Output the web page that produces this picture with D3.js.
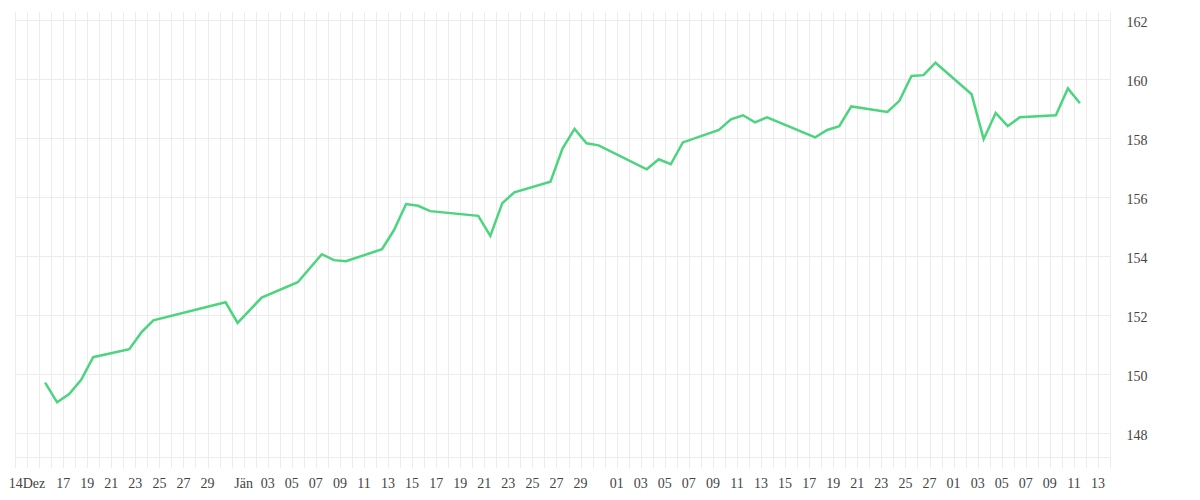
<!DOCTYPE html>
<html>
<head>
<meta charset="utf-8">
<script src="https://cdn.jsdelivr.net/npm/d3@7/dist/d3.min.js"></script>
<style>
  html, body { margin: 0; padding: 0; background: #ffffff; }
  svg { display: block; }
  text { font-family: "Liberation Serif", "Times New Roman", serif; font-size: 14px; fill: #444; }
</style>
</head>
<body>
<svg id="chart" width="1200" height="500"></svg>
<script>
// ---- data ----
const dates = [
  "2025-12-15","2025-12-16","2025-12-17","2025-12-18","2025-12-19",
  "2025-12-22","2025-12-23","2025-12-24","2025-12-30","2025-12-31",
  "2026-01-02","2026-01-05","2026-01-07","2026-01-08","2026-01-09",
  "2026-01-12","2026-01-13","2026-01-14","2026-01-15","2026-01-16",
  "2026-01-20","2026-01-21","2026-01-22","2026-01-23","2026-01-26",
  "2026-01-27","2026-01-28","2026-01-29","2026-01-30","2026-02-03",
  "2026-02-04","2026-02-05","2026-02-06","2026-02-09","2026-02-10",
  "2026-02-11","2026-02-12","2026-02-13","2026-02-17","2026-02-18",
  "2026-02-19","2026-02-20","2026-02-23","2026-02-24","2026-02-25",
  "2026-02-26","2026-02-27","2026-03-02","2026-03-03","2026-03-04",
  "2026-03-05","2026-03-06","2026-03-09","2026-03-10","2026-03-11"
];
const values = [
  149.72,149.05,149.33,149.81,150.58,
  150.85,151.42,151.83,152.44,151.74,
  152.60,153.12,154.07,153.87,153.83,
  154.24,154.89,155.77,155.71,155.53,
  155.37,154.69,155.80,156.17,156.53,
  157.65,158.32,157.83,157.76,156.95,
  157.29,157.12,157.86,158.28,158.64,
  158.78,158.54,158.71,158.03,158.28,
  158.41,159.08,158.89,159.27,160.11,
  160.14,160.56,159.49,157.97,158.86,
  158.41,158.71,158.78,159.69,159.19
];
const tickDates = [
  "2025-12-14","2025-12-17","2025-12-19","2025-12-21","2025-12-23","2025-12-25","2025-12-27","2025-12-29",
  "2026-01-01","2026-01-03","2026-01-05","2026-01-07","2026-01-09","2026-01-11","2026-01-13","2026-01-15",
  "2026-01-17","2026-01-19","2026-01-21","2026-01-23","2026-01-25","2026-01-27","2026-01-29",
  "2026-02-01","2026-02-03","2026-02-05","2026-02-07","2026-02-09","2026-02-11","2026-02-13","2026-02-15",
  "2026-02-17","2026-02-19","2026-02-21","2026-02-23","2026-02-25","2026-02-27",
  "2026-03-01","2026-03-03","2026-03-05","2026-03-07","2026-03-09","2026-03-11","2026-03-13"
];
const tickLabels = [
  "14Dez","17","19","21","23","25","27","29",
  "Jän","03","05","07","09","11","13","15",
  "17","19","21","23","25","27","29",
  "01","03","05","07","09","11","13","15",
  "17","19","21","23","25","27",
  "01","03","05","07","09","11","13"
];
const yTicks = [148, 150, 152, 154, 156, 158, 160, 162];
const xStart = "2025-12-13";
const xEnd = "2026-03-14";

// ---- chart ----
(function () {
  const parse = d3.timeParse("%Y-%m-%d");
  const svg = d3.select("#chart");
  const pLeft = 15, pRight = 1110, pTop = 12, pBottom = 457;

  const x = d3.scaleTime().domain([parse(xStart), parse(xEnd)]).range([pLeft, pRight]);
  const y = d3.scaleLinear().domain([147.197, 162.28]).range([pBottom, pTop]);

  const crisp = v => Math.round(v) + 0.5;

  // vertical day grid (extends below axis as ticks)
  const days = d3.timeDay.range(parse(xStart), d3.timeDay.offset(parse(xEnd), 1));
  svg.append("g").selectAll("line").data(days).join("line")
    .attr("x1", d => crisp(x(d))).attr("x2", d => crisp(x(d)))
    .attr("y1", pTop).attr("y2", pBottom + 11)
    .attr("stroke", "#ececec").attr("stroke-width", 1);

  // horizontal grid
  svg.append("g").selectAll("line").data(yTicks).join("line")
    .attr("x1", pLeft).attr("x2", pRight)
    .attr("y1", d => crisp(y(d))).attr("y2", d => crisp(y(d)))
    .attr("stroke", "#ececec").attr("stroke-width", 1);

  // bottom axis line
  svg.append("line")
    .attr("x1", pLeft).attr("x2", pRight)
    .attr("y1", crisp(pBottom)).attr("y2", crisp(pBottom))
    .attr("stroke", "#ececec").attr("stroke-width", 1);

  // y labels (right)
  svg.append("g").selectAll("text").data(yTicks).join("text")
    .attr("x", 1137).attr("y", d => y(d) + 2)
    .attr("text-anchor", "middle").attr("dominant-baseline", "central")
    .text(d => d);

  // x labels
  svg.append("g").selectAll("text").data(tickDates).join("text")
    .attr("x", d => x(parse(d))).attr("y", 483)
    .attr("text-anchor", "middle").attr("dominant-baseline", "central")
    .text((d, i) => tickLabels[i]);

  // line (points centred in their day cell)
  const pts = dates.map((d, i) => ({ date: parse(d), value: values[i] }));
  const line = d3.line()
    .x(d => x(d3.timeHour.offset(d.date, 12)))
    .y(d => y(d.value));
  svg.append("path").datum(pts)
    .attr("d", line)
    .attr("fill", "none")
    .attr("stroke", "#4cd47f")
    .attr("stroke-width", 2.5)
    .attr("stroke-linejoin", "miter")
    .attr("stroke-linecap", "butt");
})();
</script>
</body>
</html>
